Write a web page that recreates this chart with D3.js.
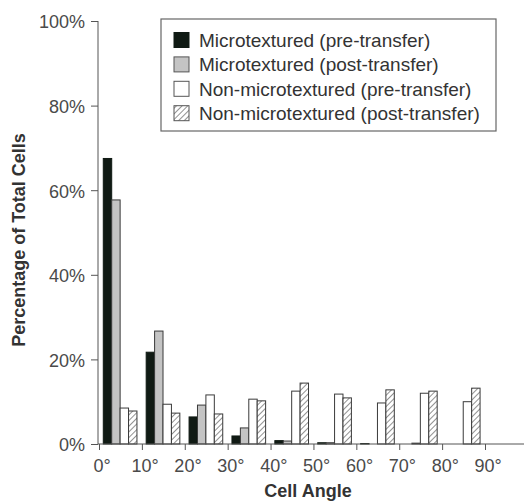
<!DOCTYPE html>
<html lang="en">
    <head>
        <meta charset="UTF-8">
        <title>Cell Angle</title>
        <script src="https://d3js.org/d3.v7.min.js"></script>
        <style>
            html, body {
                margin: 0;
                background-color: white;
                font-family: Arial, "Liberation Sans", sans-serif;
            }
            .tick text {
                font-size: 18px;
                fill: #4a4a4a;
            }
            .axis-title {
                font-weight: bold;
                fill: #333;
            }
            .legend-label {
                font-size: 19px;
                fill: #333;
            }
        </style>
    </head>
    <body>
        <div id="chart"></div>
        <script>

            const angles = [0, 10, 20, 30, 40, 50, 60, 70, 80];
            const tickAngles = [0, 10, 20, 30, 40, 50, 60, 70, 80, 90];
            const yTicks = [0, 20, 40, 60, 80, 100];

            const seriesNames = [
                "Microtextured (pre-transfer)",
                "Microtextured (post-transfer)",
                "Non-microtextured (pre-transfer)",
                "Non-microtextured (post-transfer)"
            ];

            const microPre = [67.5, 21.7, 6.4, 1.9, 0.8, 0.3, 0.1, 0, 0];
            const microPost = [57.7, 26.7, 9.2, 3.8, 0.7, 0.3, 0, 0.2, 0];
            const nonMicroPre = [8.5, 9.4, 11.6, 10.6, 12.5, 11.8, 9.7, 12, 10];
            const nonMicroPost = [7.8, 7.3, 7.1, 10.2, 14.4, 10.9, 12.8, 12.5, 13.2];

            const seriesValues = [microPre, microPost, nonMicroPre, nonMicroPost];
            const fills = ["#101a14", "#c4c4c4", "#ffffff", "url(#hatch)"];

            const width = 524;
            const height = 502;

            const svg = d3.select("#chart")
                .append("svg")
                .attr("width", width)
                .attr("height", height);

            const pattern = svg.append("defs").append("pattern")
                .attr("id", "hatch")
                .attr("patternUnits", "userSpaceOnUse")
                .attr("width", 4)
                .attr("height", 4)
                .attr("patternTransform", "rotate(45)");
            pattern.append("rect")
                .attr("width", 4)
                .attr("height", 4)
                .attr("fill", "white");
            pattern.append("line")
                .attr("x1", 0).attr("y1", 0)
                .attr("x2", 0).attr("y2", 4)
                .attr("stroke", "#555")
                .attr("stroke-width", 1.3);

            const x = d3.scaleLinear()
                .domain([0, 90])
                .range([99, 485]);

            const y = d3.scaleLinear()
                .domain([0, 100])
                .range([444, 21]);

            const groupW = x(10) - x(0);
            const inner = d3.scaleBand()
                .domain(d3.range(seriesNames.length))
                .range([groupW * 0.1, groupW * 0.885]);

            // bars
            seriesValues.forEach((vals, s) => {
                svg.append("g")
                    .selectAll("rect")
                    .data(angles)
                    .enter().append("rect")
                    .attr("x", (a) => x(a) + inner(s))
                    .attr("y", (a, i) => y(vals[i]))
                    .attr("width", inner.bandwidth())
                    .attr("height", (a, i) => y(0) - y(vals[i]))
                    .attr("fill", fills[s])
                    .attr("stroke", s === 0 ? "#101a14" : "#3a3a3a")
                    .attr("stroke-width", 1);
            });

            // y axis
            const yAxis = svg.append("g")
                .attr("transform", "translate(98,0)")
                .call(d3.axisLeft(y)
                    .tickValues(yTicks)
                    .tickFormat(d => d + "%")
                    .tickSize(7)
                    .tickPadding(6));
            yAxis.select(".domain").remove();
            yAxis.append("line")
                .attr("y1", y(100)).attr("y2", y(0))
                .attr("stroke", "#555");
            yAxis.selectAll(".tick line").attr("stroke", "#555");
            yAxis.selectAll(".tick text").attr("dy", "0.38em");

            // x axis
            const xAxis = svg.append("g")
                .attr("transform", "translate(0,444)")
                .call(d3.axisBottom(x)
                    .tickValues(tickAngles)
                    .tickFormat(d => d + "°")
                    .tickSize(6)
                    .tickPadding(9));
            xAxis.select(".domain").remove();
            xAxis.append("line")
                .attr("x1", 98).attr("x2", width)
                .attr("stroke", "#555");
            xAxis.selectAll(".tick line").attr("stroke", "#555");
            xAxis.selectAll(".tick text").attr("dx", "0.15em");

            // axis titles
            svg.append("text")
                .attr("class", "axis-title")
                .attr("transform", "translate(25,240) rotate(-90)")
                .attr("text-anchor", "middle")
                .style("font-size", "18px")
                .text("Percentage of Total Cells");

            svg.append("text")
                .attr("class", "axis-title")
                .attr("x", 308)
                .attr("y", 497)
                .attr("text-anchor", "middle")
                .style("font-size", "18px")
                .text("Cell Angle");

            // legend
            const legend = svg.append("g");
            legend.append("rect")
                .attr("x", 161).attr("y", 19)
                .attr("width", 335).attr("height", 112)
                .attr("fill", "white")
                .attr("stroke", "#666")
                .attr("stroke-width", 1.2);

            const item = legend.selectAll(".legend-item")
                .data(seriesNames)
                .enter().append("g")
                .attr("class", "legend-item")
                .attr("transform", (d, i) => `translate(174,${40 + i * 24.4})`);

            item.append("rect")
                .attr("x", 0).attr("y", -7.5)
                .attr("width", 15).attr("height", 15)
                .attr("fill", (d, i) => fills[i])
                .attr("stroke", (d, i) => i === 0 ? "#101a14" : "#555");

            item.append("text")
                .attr("class", "legend-label")
                .attr("x", 25)
                .attr("dy", "0.36em")
                .text(d => d);

        </script>
    </body>
</html>
